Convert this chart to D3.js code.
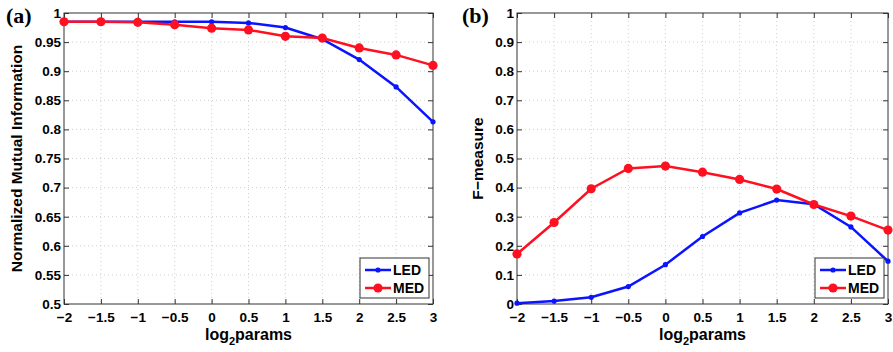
<!DOCTYPE html>
<html>
<head>
<meta charset="utf-8">
<script src="https://cdn.jsdelivr.net/npm/d3@7"></script>
<style>
  body { margin: 0; background: #fff; }
  text { font-family: "Liberation Sans", Arial, sans-serif; font-weight: bold; }
</style>
</head>
<body>
<div id="chart"></div>
<script>
// x values shared by both panels
var params = [-2, -1.5, -1, -0.5, 0, 0.5, 1, 1.5, 2, 2.5, 3];

// panel (a) normalized mutual information
var nmiLED = [0.985, 0.985, 0.985, 0.985, 0.985, 0.983, 0.975, 0.955, 0.920, 0.873, 0.813];
var nmiMED = [0.985, 0.985, 0.984, 0.980, 0.974, 0.971, 0.960, 0.957, 0.940, 0.928, 0.910];

// panel (b) F-measure
var fLED = [0.003, 0.010, 0.023, 0.060, 0.135, 0.232, 0.313, 0.357, 0.343, 0.265, 0.147];
var fMED = [0.172, 0.280, 0.396, 0.466, 0.474, 0.453, 0.428, 0.395, 0.342, 0.302, 0.254];

var xTicks = [-2, -1.5, -1, -0.5, 0, 0.5, 1, 1.5, 2, 2.5, 3];
var nmiTicks = [0.5, 0.55, 0.6, 0.65, 0.7, 0.75, 0.8, 0.85, 0.9, 0.95, 1];
var fTicks = [0, 0.1, 0.2, 0.3, 0.4, 0.5, 0.6, 0.7, 0.8, 0.9, 1];

var svg = d3.select('#chart').append('svg')
    .attr('width', 893)
    .attr('height', 352);

// matlab style labels: no trailing zeros, real minus sign
var fmt = d => String(+d.toFixed(2)).replace('-', '\u2212');

function drawPanel(opt) {
    var w = opt.right - opt.left, h = opt.bottom - opt.top;
    var g = svg.append('g').attr('transform', `translate(${opt.left},${opt.top})`);

    var x = d3.scaleLinear().domain([-2, 3]).range([0, w]);
    var y = d3.scaleLinear().domain(opt.domain).range([h, 0]);

    // grid
    g.append('g').selectAll('line').data(xTicks.slice(1, -1)).enter().append('line')
        .attr('x1', d => x(d)).attr('x2', d => x(d)).attr('y1', 0).attr('y2', h)
        .attr('stroke', '#c4c4c4').attr('stroke-width', 0.8).attr('stroke-dasharray', '1,3');
    g.append('g').selectAll('line').data(opt.yTicks.slice(1, -1)).enter().append('line')
        .attr('y1', d => y(d)).attr('y2', d => y(d)).attr('x1', 0).attr('x2', w)
        .attr('stroke', '#c4c4c4').attr('stroke-width', 0.8).attr('stroke-dasharray', '1,3');

    // axes, ticks pointing inward
    var xAxis = d3.axisBottom(x).tickValues(xTicks).tickFormat(fmt).tickSizeInner(-5).tickSizeOuter(0).tickPadding(8);
    var gx = g.append('g').attr('transform', `translate(0,${h})`).call(xAxis);
    var xTop = d3.axisTop(x).tickValues(xTicks).tickSizeInner(-5).tickSizeOuter(0).tickFormat('');
    g.append('g').call(xTop);
    var yAxis = d3.axisLeft(y).tickValues(opt.yTicks).tickFormat(fmt).tickSizeInner(-5).tickSizeOuter(0).tickPadding(3);
    var gy = g.append('g').call(yAxis);
    var yRight = d3.axisRight(y).tickValues(opt.yTicks).tickSizeInner(-5).tickSizeOuter(0).tickFormat('');
    g.append('g').attr('transform', `translate(${w},0)`).call(yRight);

    g.selectAll('.domain').remove();
    g.selectAll('.tick line').attr('stroke', '#333');
    gx.selectAll('text').attr('font-size', 13.5).attr('fill', '#000');
    gy.selectAll('text').attr('font-size', 13.5).attr('fill', '#000');

    g.append('rect').attr('width', w).attr('height', h)
        .attr('fill', 'none').attr('stroke', '#333').attr('stroke-width', 1);

    var line = d3.line().x(d => x(d[0])).y(d => y(d[1]));
    var ledPts = params.map((p, i) => [p, opt.led[i]]);
    var medPts = params.map((p, i) => [p, opt.med[i]]);

    g.append('path').datum(ledPts).attr('d', line)
        .attr('fill', 'none').attr('stroke', '#0a14ff').attr('stroke-width', 2.5);
    g.selectAll('circle.led').data(ledPts).enter().append('circle')
        .attr('cx', d => x(d[0])).attr('cy', d => y(d[1])).attr('r', 2.6).attr('fill', '#0a14ff');

    g.append('path').datum(medPts).attr('d', line)
        .attr('fill', 'none').attr('stroke', '#ff1020').attr('stroke-width', 2.5);
    g.selectAll('circle.med').data(medPts).enter().append('circle')
        .attr('cx', d => x(d[0])).attr('cy', d => y(d[1])).attr('r', 4.6).attr('fill', '#ff1020');

    // legend
    var lg = g.append('g').attr('transform', `translate(${w - 73},${h - 46})`);
    lg.append('rect').attr('width', 69).attr('height', 40)
        .attr('fill', '#fff').attr('stroke', '#333').attr('stroke-width', 1);
    var items = [{name: 'LED', c: '#0a14ff', r: 2.6}, {name: 'MED', c: '#ff1020', r: 4.6}];
    items.forEach(function(it, i) {
        var yy = 12 + i * 18;
        lg.append('line').attr('x1', 5).attr('x2', 31).attr('y1', yy).attr('y2', yy)
            .attr('stroke', it.c).attr('stroke-width', 2.5);
        lg.append('circle').attr('cx', 18).attr('cy', yy).attr('r', it.r).attr('fill', it.c);
        lg.append('text').attr('x', 33).attr('y', yy + 5).attr('font-size', 14).text(it.name);
    });

    // x title with subscript
    var xt = svg.append('text').attr('x', opt.left + w / 2).attr('y', 340)
        .attr('text-anchor', 'middle').attr('font-size', 16);
    xt.append('tspan').text('log');
    xt.append('tspan').attr('font-size', 11).attr('dy', 5).text('2');
    xt.append('tspan').attr('dy', -5).text('params');

    // y title
    svg.append('text')
        .attr('transform', `translate(${opt.yLabelX},${opt.top + h / 2}) rotate(-90)`)
        .attr('text-anchor', 'middle').attr('font-size', 15.5).text(opt.yLabel);

    // panel letter
    svg.append('text').attr('x', opt.tagX).attr('y', 23)
        .style('font-family', '"Liberation Serif", "Times New Roman", serif')
        .attr('font-size', 22).text(opt.tag);
}

drawPanel({left: 64, right: 433, top: 13, bottom: 304, domain: [0.5, 1], yTicks: nmiTicks,
    led: nmiLED, med: nmiMED, yLabel: 'Normalized Mutual Information', yLabelX: 22, tag: '(a)', tagX: 6});
drawPanel({left: 517, right: 888, top: 13, bottom: 304, domain: [0, 1], yTicks: fTicks,
    led: fLED, med: fMED, yLabel: 'F\u2212measure', yLabelX: 483, tag: '(b)', tagX: 462});
</script>
</body>
</html>
